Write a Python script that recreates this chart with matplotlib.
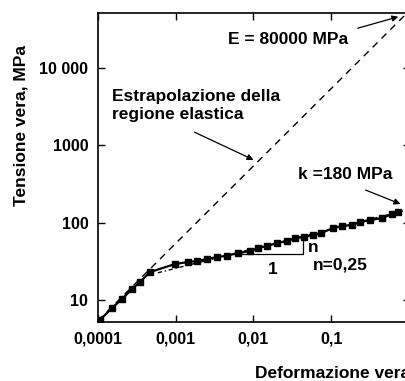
import matplotlib
matplotlib.use("Agg")
import matplotlib.pyplot as plt

plt.rcParams['font.family'] = ['Liberation Sans', 'DejaVu Sans']
plt.rcParams['font.weight'] = 'bold'

W, H = 406, 381

strain = [1.06e-4, 1.51e-4, 2.04e-4, 2.74e-4, 3.47e-4, 4.67e-4,
          9.79e-4, 1.44e-3, 1.88e-3, 2.53e-3, 3.40e-3, 4.57e-3,
          6.34e-3, 9.04e-3, 1.146e-2, 1.496e-2, 2.01e-2, 2.71e-2,
          3.43e-2, 4.48e-2, 5.85e-2, 7.41e-2, 0.1058, 0.138,
          0.186, 0.235, 0.317, 0.452, 0.608, 0.726]
stress = [5.51, 7.88, 10.3, 13.9, 17.1, 23.0,
          29.2, 31.0, 31.9, 33.9, 35.9, 37.4,
          40.5, 43.0, 47.0, 49.9, 54.5, 57.8,
          63.2, 65.2, 69.1, 73.4, 85.1, 90.4,
          93.1, 101.8, 108.1, 114.7, 129.1, 137.1]

# estrapolazione elastica e retta sigma = k eps^n
elastic_strain = [1e-4, 1.0]
elastic_stress = [5.4, 54000]
fit_strain = [5.9e-4, 1.0]
fit_stress = [22.5, 148]

# triangolo della pendenza (solo cateti)
tri_strain = [6.1e-3, 4.3e-2, 4.3e-2]
tri_stress = [38.9, 38.9, 62.0]

xticks = [1e-4, 1e-3, 1e-2, 1e-1, 1]
xlabels = ["0,0001", "0,001", "0,01", "0,1", "1"]
yticks = [10, 100, 1000, 10000]
ylabels = ["10", "100", "1000", "10 000"]


def fp(x, y):
    # pixel (dall'alto a sinistra) -> frazione della figura
    return (x / W, 1 - y / H)


fig = plt.figure(figsize=(W / 100, H / 100), dpi=100)
ax = fig.add_axes([98 / W, 1 - 322 / H, (410 - 98) / W, (322 - 13) / H])
ax.set_xscale('log')
ax.set_yscale('log')
ax.set_xlim(1e-4, 1.036)
ax.set_ylim(5.2, 51350)

ax.plot(elastic_strain, elastic_stress, color='black', lw=1.0,
        linestyle=(0, (5, 4)))
ax.plot(fit_strain, fit_stress, color='black', lw=1.0,
        linestyle=(0, (3, 2, 1, 2)))
ax.plot(strain, stress, color='black', lw=1.6, marker='s', markersize=3.8)
ax.plot(tri_strain, tri_stress, color='black', lw=0.9)

ax.set_xticks(xticks)
ax.set_xticklabels(xlabels)
ax.set_yticks(yticks)
ax.set_yticklabels(ylabels)
ax.minorticks_off()
ax.tick_params(direction='in', length=5, width=1, top=True, right=True,
               labelsize=11.5, pad=7)
for s in ax.spines.values():
    s.set_linewidth(1.2)

fs = 12.5
fig.text(*fp(21, 125), "Tensione vera, MPa", rotation=90, ha='center',
         va='center', fontsize=fs, fontweight='bold')
fig.text(*fp(410, 374), "Deformazione vera", ha='right', va='center',
         fontsize=fs, fontweight='bold')

fig.text(*fp(228, 39), "E = 80000 MPa", ha='left', va='center',
         fontsize=fs, fontweight='bold')
fig.text(*fp(112, 96), "Estrapolazione della", ha='left', va='center',
         fontsize=fs, fontweight='bold')
fig.text(*fp(112, 114), "regione elastica", ha='left', va='center',
         fontsize=fs, fontweight='bold')
fig.text(*fp(298, 175), "k =180 MPa", ha='left', va='center',
         fontsize=fs, fontweight='bold')
fig.text(*fp(308, 247), "n", ha='left', va='center',
         fontsize=fs, fontweight='bold')
fig.text(*fp(273, 270), "1", ha='center', va='center',
         fontsize=fs, fontweight='bold')
fig.text(*fp(313, 265), "n=0,25", ha='left', va='center',
         fontsize=fs, fontweight='bold')

arrow = dict(arrowstyle='-|>', color='black', lw=0.9, mutation_scale=9)
ax.annotate("", xy=fp(401, 16), xytext=fp(355, 29),
            xycoords='figure fraction', textcoords='figure fraction',
            arrowprops=arrow)
ax.annotate("", xy=fp(256, 161), xytext=fp(192, 131),
            xycoords='figure fraction', textcoords='figure fraction',
            arrowprops=arrow)
ax.annotate("", xy=fp(403, 205), xytext=fp(363, 189),
            xycoords='figure fraction', textcoords='figure fraction',
            arrowprops=arrow)

fig.savefig("out.png", dpi=100)
